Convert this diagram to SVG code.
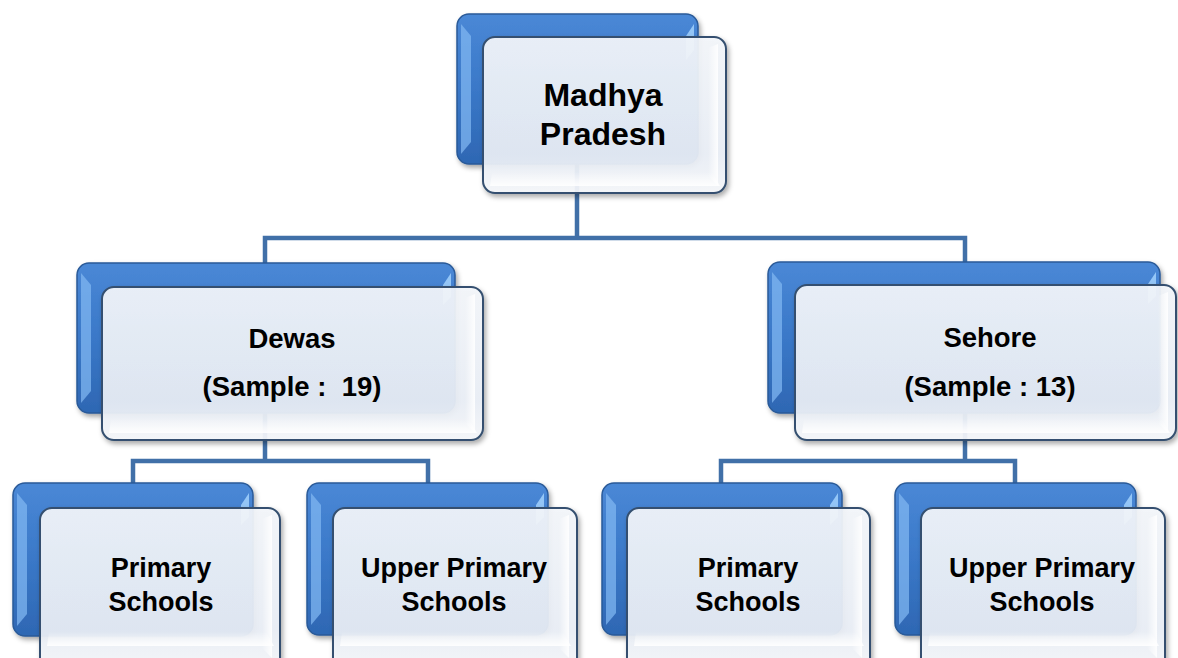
<svg xmlns="http://www.w3.org/2000/svg" width="1178" height="658" viewBox="0 0 1178 658">
<defs>
  <linearGradient id="gBlue" x1="0" y1="0" x2="0" y2="1">
    <stop offset="0" stop-color="#4a88d6"/>
    <stop offset="0.5" stop-color="#3a78c8"/>
    <stop offset="1" stop-color="#2e67b3"/>
  </linearGradient>
  <linearGradient id="gFront" x1="0" y1="0" x2="0" y2="1">
    <stop offset="0" stop-color="#f4f7fb"/>
    <stop offset="0.75" stop-color="#eaeff7"/>
    <stop offset="1" stop-color="#f6f8fb"/>
  </linearGradient>
  <linearGradient id="gBevelR" x1="0" y1="0" x2="1" y2="0">
    <stop offset="0" stop-color="#ffffff" stop-opacity="0"/>
    <stop offset="1" stop-color="#ffffff" stop-opacity="0.9"/>
  </linearGradient>
  <linearGradient id="gBevelB" x1="0" y1="0" x2="0" y2="1">
    <stop offset="0" stop-color="#ffffff" stop-opacity="0"/>
    <stop offset="1" stop-color="#ffffff" stop-opacity="0.9"/>
  </linearGradient>
  <filter id="shadow" x="-10%" y="-10%" width="130%" height="130%">
    <feDropShadow dx="2" dy="3" stdDeviation="2.5" flood-color="#000" flood-opacity="0.35"/>
  </filter>
</defs>
<style>
  .back { fill: url(#gBlue); stroke: #2a5a98; stroke-width: 1.5; filter: url(#shadow); }
  .bevL { fill: #7fb6f0; opacity: 0.75; }
  .bevR { fill: #a8d6ff; opacity: 0.8; }
  .front { fill: url(#gFront); fill-opacity: 0.92; stroke: #34506f; stroke-width: 2; filter: url(#shadow); }
  .inR { fill: url(#gBevelR); }
  .inB { fill: url(#gBevelB); }
  .conn { fill: none; stroke: #4170a8; stroke-width: 4.5; stroke-linejoin: miter; }
  text { font-family: "Liberation Sans", Arial, sans-serif; font-weight: bold; fill: #000; text-anchor: middle; }
  .t1 { font-size: 32px; }
  .t2 { font-size: 27.5px; }
  .t3 { font-size: 27px; }
</style>

<g id="connectors">
  <path class="conn" d="M577,160 V238 M265,264 V238 H965 V264"/>
  <path class="conn" d="M265,410 V461 M133,485 V461 H428 V485"/>
  <path class="conn" d="M965,410 V461 M721,485 V461 H1015 V485"/>
</g>

<g id="node-madhya-pradesh">
  <rect class="back" x="457" y="14" width="241" height="150" rx="12"/>
  <polygon class="bevL" points="461,24 471,36 471,142 461,154"/>
  <polygon class="bevR" points="694,24 686,36 686,60 694,50"/>
  <rect class="front" x="483" y="37" width="243" height="156" rx="12"/>
  <path class="inR" d="M708,48 L718,44 V186 L708,176 Z"/>
  <path class="inB" d="M492,172 H712 L720,186 H490 Z"/>
  <text class="t1" x="603" y="106">Madhya</text>
  <text class="t1" x="603" y="145">Pradesh</text>
</g>

<g id="node-dewas">
  <rect class="back" x="77" y="263" width="378" height="150" rx="12"/>
  <polygon class="bevL" points="81,273 91,285 91,391 81,403"/>
  <polygon class="bevR" points="451,273 443,285 443,305 451,297"/>
  <rect class="front" x="102" y="287" width="381" height="153" rx="12"/>
  <path class="inR" d="M465,298 L475,294 V433 L465,423 Z"/>
  <path class="inB" d="M111,419 H469 L477,433 H109 Z"/>
  <text class="t2" x="292" y="348">Dewas</text>
  <text class="t2" x="292" y="396" xml:space="preserve">(Sample :  19)</text>
</g>

<g id="node-sehore">
  <rect class="back" x="768" y="262" width="392" height="151" rx="12"/>
  <polygon class="bevL" points="772,272 782,284 782,391 772,403"/>
  <polygon class="bevR" points="1156,272 1148,284 1148,304 1156,296"/>
  <rect class="front" x="795" y="285" width="381" height="155" rx="12"/>
  <path class="inR" d="M1158,296 L1168,292 V433 L1158,423 Z"/>
  <path class="inB" d="M804,419 H1162 L1170,433 H802 Z"/>
  <text class="t2" x="990" y="347">Sehore</text>
  <text class="t2" x="990" y="396">(Sample : 13)</text>
</g>

<g id="node-dewas-primary">
  <rect class="back" x="13" y="483" width="240" height="153" rx="12"/>
  <polygon class="bevL" points="17,493 27,505 27,614 17,626"/>
  <polygon class="bevR" points="249,493 241,505 241,525 249,517"/>
  <rect class="front" x="40" y="508" width="240" height="162" rx="12"/>
  <path class="inR" d="M262,519 L272,515 V658 L262,648 Z"/>
  <path class="inB" d="M49,632 H266 L274,646 H47 Z"/>
  <text class="t3" x="161" y="577">Primary</text>
  <text class="t3" x="161" y="611">Schools</text>
</g>

<g id="node-dewas-upper-primary">
  <rect class="back" x="307" y="483" width="241" height="152" rx="12"/>
  <polygon class="bevL" points="311,493 321,505 321,613 311,625"/>
  <polygon class="bevR" points="544,493 536,505 536,525 544,517"/>
  <rect class="front" x="333" y="508" width="244" height="162" rx="12"/>
  <path class="inR" d="M559,519 L569,515 V658 L559,648 Z"/>
  <path class="inB" d="M342,632 H563 L571,646 H340 Z"/>
  <text class="t3" x="454" y="577">Upper Primary</text>
  <text class="t3" x="454" y="611">Schools</text>
</g>

<g id="node-sehore-primary">
  <rect class="back" x="602" y="483" width="240" height="152" rx="12"/>
  <polygon class="bevL" points="606,493 616,505 616,613 606,625"/>
  <polygon class="bevR" points="838,493 830,505 830,525 838,517"/>
  <rect class="front" x="627" y="508" width="243" height="162" rx="12"/>
  <path class="inR" d="M852,519 L862,515 V658 L852,648 Z"/>
  <path class="inB" d="M636,632 H856 L864,646 H634 Z"/>
  <text class="t3" x="748" y="577">Primary</text>
  <text class="t3" x="748" y="611">Schools</text>
</g>

<g id="node-sehore-upper-primary">
  <rect class="back" x="895" y="483" width="241" height="152" rx="12"/>
  <polygon class="bevL" points="899,493 909,505 909,613 899,625"/>
  <polygon class="bevR" points="1132,493 1124,505 1124,525 1132,517"/>
  <rect class="front" x="921" y="508" width="244" height="162" rx="12"/>
  <path class="inR" d="M1147,519 L1157,515 V658 L1147,648 Z"/>
  <path class="inB" d="M930,632 H1151 L1159,646 H928 Z"/>
  <text class="t3" x="1042" y="577">Upper Primary</text>
  <text class="t3" x="1042" y="611">Schools</text>
</g>
</svg>
